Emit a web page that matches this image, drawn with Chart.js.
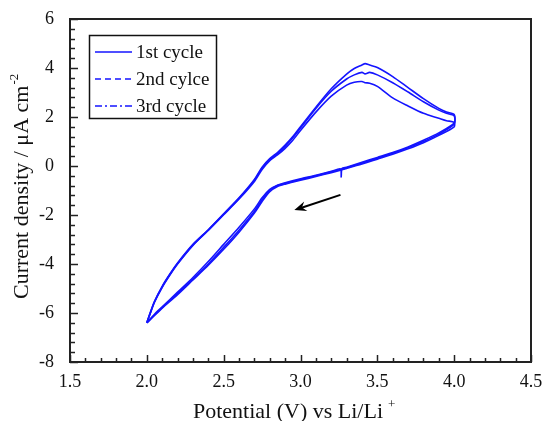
<!DOCTYPE html>
<html>
<head>
<meta charset="utf-8">
<script src="https://cdn.jsdelivr.net/npm/chart.js@4/dist/chart.umd.min.js"></script>
<style>
  body { margin: 0; background: #fff; }
  canvas { display: block; }
</style>
</head>
<body>
<canvas id="cv" width="543" height="421"></canvas>
<script>
// ===============================
// Data
// ===============================
const seriesLabels = ["1st cycle", "2nd cylce", "3rd cycle"];

// anodic sweep 2.0 V -> 4.0 V (upper branch)
const anodicPotential = [2.0, 2.02, 2.05, 2.1, 2.15, 2.2, 2.3, 2.4, 2.5, 2.6, 2.7, 2.75, 2.8, 2.85, 2.9, 2.95, 3.0, 3.1, 3.2, 3.3, 3.35, 3.4, 3.42, 3.45, 3.5, 3.6, 3.7, 3.8, 3.9, 3.95, 4.0];
const anodicCycle1 = [-6.4, -6.06, -5.56, -4.95, -4.45, -4.0, -3.24, -2.63, -1.99, -1.35, -0.63, -0.14, 0.22, 0.45, 0.72, 1.05, 1.45, 2.2, 2.85, 3.3, 3.42, 3.45, 3.4, 3.38, 3.25, 2.78, 2.45, 2.15, 1.95, 1.85, 1.78];
const anodicCycle2 = [-6.4, -6.04, -5.54, -4.93, -4.43, -3.98, -3.22, -2.61, -1.97, -1.32, -0.58, -0.08, 0.26, 0.5, 0.8, 1.15, 1.55, 2.35, 3.05, 3.55, 3.72, 3.82, 3.76, 3.82, 3.72, 3.4, 3.02, 2.62, 2.28, 2.15, 2.05];
const anodicCycle3 = [-6.4, -6.02, -5.52, -4.91, -4.41, -3.96, -3.2, -2.6, -1.95, -1.3, -0.55, -0.05, 0.3, 0.55, 0.85, 1.2, 1.6, 2.4, 3.15, 3.75, 3.98, 4.12, 4.18, 4.12, 4.02, 3.65, 3.2, 2.75, 2.35, 2.2, 2.1];

// cathodic sweep 4.0 V -> 2.0 V (lower branch)
const cathodicPotential = [4.0, 3.9, 3.8, 3.7, 3.6, 3.5, 3.4, 3.3, 3.27, 3.265, 3.26, 3.2, 3.1, 3.0, 2.9, 2.85, 2.8, 2.75, 2.7, 2.6, 2.5, 2.4, 2.3, 2.2, 2.1, 2.05, 2.0];
const cathodicCycle1 = [1.6, 1.25, 0.95, 0.7, 0.48, 0.28, 0.08, -0.1, -0.15, -0.16, -0.17, -0.27, -0.43, -0.58, -0.74, -0.84, -1.05, -1.45, -1.92, -2.7, -3.4, -4.05, -4.65, -5.25, -5.8, -6.1, -6.4];
const cathodicCycle2 = [1.7, 1.3, 1.0, 0.75, 0.52, 0.32, 0.12, -0.07, -0.12, -0.12, -0.14, -0.24, -0.4, -0.55, -0.71, -0.8, -1.0, -1.38, -1.85, -2.62, -3.32, -4.0, -4.62, -5.2, -5.78, -6.08, -6.4];
const cathodicCycle3 = [1.75, 1.35, 1.05, 0.78, 0.55, 0.35, 0.15, -0.05, -0.1, -0.45, -0.12, -0.22, -0.38, -0.52, -0.68, -0.78, -0.95, -1.3, -1.75, -2.5, -3.2, -3.9, -4.55, -5.15, -5.75, -6.05, -6.4];

// axis ranges / ticks
const xMin = 1.5, xMax = 4.5, xStep = 0.5, xMinorStep = 0.1;
const yMin = -8, yMax = 6, yStep = 2, yMinorStep = 0.4;

// arrow (data coords): tail -> head
const arrowTail = [3.26, -1.18];
const arrowHead = [2.96, -1.80];

// ===============================
// Helpers
// ===============================
const serif = "'Liberation Serif', 'Times New Roman', serif";
const blue = "#1414ff";
const legendDash = [[], [6, 4], [7, 3, 2, 3]];

function maakLus(upX, upY, downX, downY) {
    const pts = upX.map((x, i) => ({ x: x, y: upY[i] }));
    return pts.concat(downX.map((x, i) => ({ x: x, y: downY[i] })));
}

const cycles = [
    maakLus(anodicPotential, anodicCycle1, cathodicPotential, cathodicCycle1),
    maakLus(anodicPotential, anodicCycle2, cathodicPotential, cathodicCycle2),
    maakLus(anodicPotential, anodicCycle3, cathodicPotential, cathodicCycle3)
];

// ===============================
// Plugin: frame, inward ticks, titles, legend, arrow
// ===============================
const decor = {
    id: "decor",
    afterDraw(chart) {
        const ctx = chart.ctx;
        const a = chart.chartArea;
        const xs = chart.scales.x, ys = chart.scales.y;
        ctx.save();

        // inward ticks
        ctx.strokeStyle = "#222";
        ctx.lineWidth = 1.5;
        for (let k = 0; k <= Math.round((xMax - xMin) / xMinorStep); k++) {
            const v = xMin + k * xMinorStep;
            const px = Math.round(xs.getPixelForValue(v)) + 0.5;
            const len = (k % 5 === 0) ? 7 : 4;
            ctx.beginPath(); ctx.moveTo(px, a.bottom); ctx.lineTo(px, a.bottom - len); ctx.stroke();
        }
        for (let k = 0; k <= Math.round((yMax - yMin) / yMinorStep); k++) {
            const v = yMin + k * yMinorStep;
            const py = Math.round(ys.getPixelForValue(v)) + 0.5;
            const len = (k % 5 === 0) ? 8 : 5;
            ctx.beginPath(); ctx.moveTo(a.left, py); ctx.lineTo(a.left + len, py); ctx.stroke();
        }

        // frame
        ctx.lineWidth = 2;
        ctx.strokeRect(a.left, a.top, a.right - a.left, a.bottom - a.top);

        // x title
        ctx.fillStyle = "#111";
        ctx.textBaseline = "alphabetic";
        ctx.textAlign = "left";
        ctx.font = "22px " + serif;
        const xt = "Potential (V) vs Li/Li";
        const xtW = ctx.measureText(xt).width;
        const xtX = 193;
        ctx.fillText(xt, xtX, 418);
        ctx.font = "13px " + serif;
        ctx.fillText("+", xtX + xtW + 5, 408);

        // y title (rotated)
        ctx.save();
        ctx.translate(28, 299);
        ctx.rotate(-Math.PI / 2);
        ctx.font = "22px " + serif;
        const yt = "Current density / \u03bcA cm";
        const ytW = ctx.measureText(yt).width;
        ctx.fillText(yt, 0, 0);
        ctx.font = "13px " + serif;
        ctx.fillText("-2", ytW + 1, -10);
        ctx.restore();

        // legend box
        ctx.lineWidth = 1.5;
        ctx.strokeStyle = "#111";
        ctx.strokeRect(89.5, 35.5, 127, 83);
        ctx.font = "19px " + serif;
        ctx.textBaseline = "middle";
        seriesLabels.forEach((lab, i) => {
            const yy = 52 + i * 27;
            ctx.strokeStyle = blue;
            ctx.lineWidth = 1.5;
            ctx.setLineDash(legendDash[i]);
            ctx.beginPath(); ctx.moveTo(95, yy); ctx.lineTo(132, yy); ctx.stroke();
            ctx.setLineDash([]);
            ctx.fillStyle = "#111";
            ctx.fillText(lab, 136, yy + 1);
        });

        // arrow
        const tx = xs.getPixelForValue(arrowTail[0]), ty = ys.getPixelForValue(arrowTail[1]);
        const hx = xs.getPixelForValue(arrowHead[0]), hy = ys.getPixelForValue(arrowHead[1]);
        const ang = Math.atan2(hy - ty, hx - tx);
        ctx.strokeStyle = "#000";
        ctx.fillStyle = "#000";
        ctx.lineWidth = 2;
        ctx.beginPath(); ctx.moveTo(tx, ty); ctx.lineTo(hx - 6 * Math.cos(ang), hy - 6 * Math.sin(ang)); ctx.stroke();
        ctx.beginPath();
        ctx.moveTo(hx, hy);
        ctx.lineTo(hx - 12 * Math.cos(ang) + 5 * Math.sin(ang), hy - 12 * Math.sin(ang) - 5 * Math.cos(ang));
        ctx.lineTo(hx - 8 * Math.cos(ang), hy - 8 * Math.sin(ang));
        ctx.lineTo(hx - 12 * Math.cos(ang) - 5 * Math.sin(ang), hy - 12 * Math.sin(ang) + 5 * Math.cos(ang));
        ctx.closePath();
        ctx.fill();

        ctx.restore();
    }
};

// ===============================
// Chart
// ===============================
new Chart(document.getElementById("cv").getContext("2d"), {
    type: "scatter",
    data: {
        datasets: cycles.map((pts, i) => ({
            label: seriesLabels[i],
            data: pts,
            showLine: true,
            borderColor: blue,
            backgroundColor: blue,
            borderWidth: 1.6,
            pointRadius: 0,
            tension: 0.25,
            fill: false
        }))
    },
    options: {
        responsive: false,
        animation: false,
        layout: { padding: { top: 19, right: 12, left: 0, bottom: 0 } },
        plugins: {
            legend: { display: false },
            tooltip: { enabled: false },
            title: { display: false }
        },
        scales: {
            x: {
                type: "linear",
                min: xMin,
                max: xMax,
                grid: { display: false, drawTicks: false },
                border: { display: false },
                afterFit: s => { s.height = 59; s.paddingLeft = 0; s.paddingRight = 0; },
                ticks: {
                    stepSize: xStep,
                    autoSkip: false,
                    maxRotation: 0,
                    padding: 9,
                    color: "#111",
                    font: { family: serif, size: 18 }
                }
            },
            y: {
                type: "linear",
                min: yMin,
                max: yMax,
                grid: { display: false, drawTicks: false },
                border: { display: false },
                afterFit: s => { s.width = 70; s.paddingTop = 0; s.paddingBottom = 0; },
                ticks: {
                    stepSize: yStep,
                    padding: 16,
                    color: "#111",
                    font: { family: serif, size: 18 }
                }
            }
        }
    },
    plugins: [decor]
});
</script>
</body>
</html>
